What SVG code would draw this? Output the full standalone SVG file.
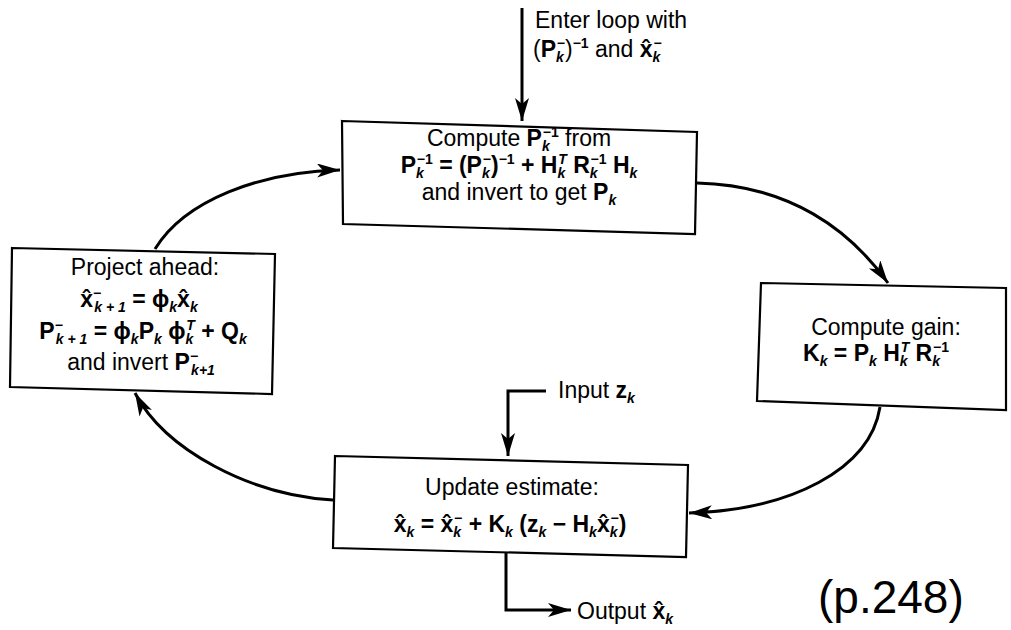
<svg xmlns="http://www.w3.org/2000/svg" width="1011" height="630" viewBox="0 0 1011 630">
  <style>
    .box { fill: #fff; stroke: #000; stroke-width: 2.2; stroke-linejoin: miter; }
    .wire { fill: none; stroke: #000; stroke-width: 3; }
    .t { font-family: "Liberation Sans", Arial, sans-serif; font-size: 23px; fill: #000; }
    .b { font-weight: bold; }
    .s { font-size: 14px; font-style: italic; font-weight: bold; }
    .p { font-size: 14px; font-weight: bold; font-style: normal; }
    .hand { font-family: "Liberation Sans", Arial, sans-serif; font-size: 46px; fill: #000; }
  </style>
  <defs>
    <marker id="head" markerUnits="userSpaceOnUse" markerWidth="26" markerHeight="16" refX="23" refY="7" orient="auto">
      <path d="M0,0 L23,7 L0,14 L6,7 Z" fill="#000"/>
    </marker>
  </defs>

  <rect width="1011" height="630" fill="#fff"/>

  <!-- connectors -->
  <g id="connectors">
    <path class="wire" d="M522,8 L522,121" marker-end="url(#head)"/>
    <path class="wire" d="M155,249 C185,200 260,172 340,170" marker-end="url(#head)"/>
    <path class="wire" d="M697,183 C790,185 850,230 888,283" marker-end="url(#head)"/>
    <path class="wire" d="M880,407 C870,470 790,510 689,513" marker-end="url(#head)"/>
    <path class="wire" d="M333,500 C250,495 165,450 135,393" marker-end="url(#head)"/>
    <path class="wire" d="M546,391 L508,391 L508,456" marker-end="url(#head)"/>
    <path class="wire" d="M506,553 L506,610 L571,610" marker-end="url(#head)"/>
  </g>

  <!-- entry label -->
  <g id="entry">
    <text class="t" x="535" y="28">Enter loop with</text>
    <text class="t" x="533" y="57">(<tspan class="b">P</tspan><tspan class="s" dy="5">k</tspan><tspan class="p" dx="-7" dy="-14">−</tspan><tspan dy="9">)</tspan><tspan class="p" dy="-9">−1</tspan><tspan dy="9"> and </tspan><tspan class="b">x̂</tspan><tspan class="s" dy="5">k</tspan><tspan class="p" dx="-7" dy="-14">−</tspan></text>
  </g>

  <!-- covariance update -->
  <g id="compute-p">
    <polygon class="box" points="342,121 697,132 695,234 343,224"/>
    <text class="t" x="519" y="146" text-anchor="middle">Compute <tspan class="b">P</tspan><tspan class="s" dy="5">k</tspan><tspan class="p" dx="-7" dy="-14">−1</tspan><tspan dy="9"> from</tspan></text>
    <text class="t b" x="519" y="173" text-anchor="middle">P<tspan class="s" dy="5">k</tspan><tspan class="p" dx="-7" dy="-14">−1</tspan><tspan dy="9"> = (P</tspan><tspan class="s" dy="5">k</tspan><tspan class="p" dx="-7" dy="-14">−</tspan><tspan dy="9">)</tspan><tspan class="p" dy="-9">−1</tspan><tspan dy="9"> + H</tspan><tspan class="s" dy="5">k</tspan><tspan class="s" dx="-7" dy="-14">T</tspan><tspan dy="9"> R</tspan><tspan class="s" dy="5">k</tspan><tspan class="p" dx="-7" dy="-14">−1</tspan><tspan dy="9"> H</tspan><tspan class="s" dy="5">k</tspan></text>
    <text class="t" x="519" y="200" text-anchor="middle">and invert to get <tspan class="b">P</tspan><tspan class="s" dy="5">k</tspan></text>
  </g>

  <!-- gain -->
  <g id="compute-gain">
    <polygon class="box" points="761,283 1006,288 1006,410 757,401"/>
    <text class="t" x="886" y="335" text-anchor="middle">Compute gain:</text>
    <text class="t b" x="876" y="361" text-anchor="middle">K<tspan class="s" dy="5">k</tspan><tspan dy="-5"> = P</tspan><tspan class="s" dy="5">k</tspan><tspan dy="-5"> H</tspan><tspan class="s" dy="5">k</tspan><tspan class="s" dx="-7" dy="-14">T</tspan><tspan dy="9"> R</tspan><tspan class="s" dy="5">k</tspan><tspan class="p" dx="-7" dy="-14">−1</tspan></text>
  </g>

  <!-- estimate update -->
  <g id="update">
    <polygon class="box" points="335,456 688,465 686,557 333,548"/>
    <text class="t" x="512" y="495" text-anchor="middle">Update  estimate:</text>
    <text class="t b" x="510" y="532" text-anchor="middle">x̂<tspan class="s" dy="5">k</tspan><tspan dy="-5"> = x̂</tspan><tspan class="s" dy="5">k</tspan><tspan class="p" dx="-7" dy="-14">−</tspan><tspan dy="9"> + K</tspan><tspan class="s" dy="5">k</tspan><tspan dy="-5"> (z</tspan><tspan class="s" dy="5">k</tspan><tspan dy="-5"> − H</tspan><tspan class="s" dy="5">k</tspan><tspan dy="-5">x̂</tspan><tspan class="s" dy="5">k</tspan><tspan class="p" dx="-7" dy="-14">−</tspan><tspan dy="9">)</tspan></text>
  </g>

  <!-- projection -->
  <g id="project">
    <polygon class="box" points="12,248 275,254 272,394 10,387"/>
    <text class="t" x="145" y="275" text-anchor="middle">Project ahead:</text>
    <text class="t b" x="139" y="307" text-anchor="middle">x̂<tspan class="p" dy="-9">−</tspan><tspan class="s" dx="-7" dy="14">k + 1</tspan><tspan dy="-5"> = ϕ</tspan><tspan class="s" dy="5">k</tspan><tspan dy="-5">x̂</tspan><tspan class="s" dy="5">k</tspan></text>
    <text class="t b" x="143" y="339" text-anchor="middle">P<tspan class="p" dy="-9">−</tspan><tspan class="s" dx="-7" dy="14">k + 1</tspan><tspan dy="-5"> = ϕ</tspan><tspan class="s" dy="5">k</tspan><tspan dy="-5">P</tspan><tspan class="s" dy="5">k</tspan><tspan dy="-5"> ϕ</tspan><tspan class="s" dy="5">k</tspan><tspan class="s" dx="-7" dy="-14">T</tspan><tspan dy="9"> + Q</tspan><tspan class="s" dy="5">k</tspan></text>
    <text class="t" x="141" y="370" text-anchor="middle">and invert <tspan class="b">P</tspan><tspan class="p" dy="-9">−</tspan><tspan class="s" dx="-7" dy="14">k+1</tspan></text>
  </g>

  <!-- side labels -->
  <g id="input">
    <text class="t" x="558" y="398">Input <tspan class="b">z</tspan><tspan class="s" dy="5">k</tspan></text>
  </g>
  <g id="output">
    <text class="t" x="577" y="619">Output <tspan class="b">x̂</tspan><tspan class="s" dy="5">k</tspan></text>
  </g>

  <text class="hand" x="818" y="613">(p.248)</text>
</svg>
